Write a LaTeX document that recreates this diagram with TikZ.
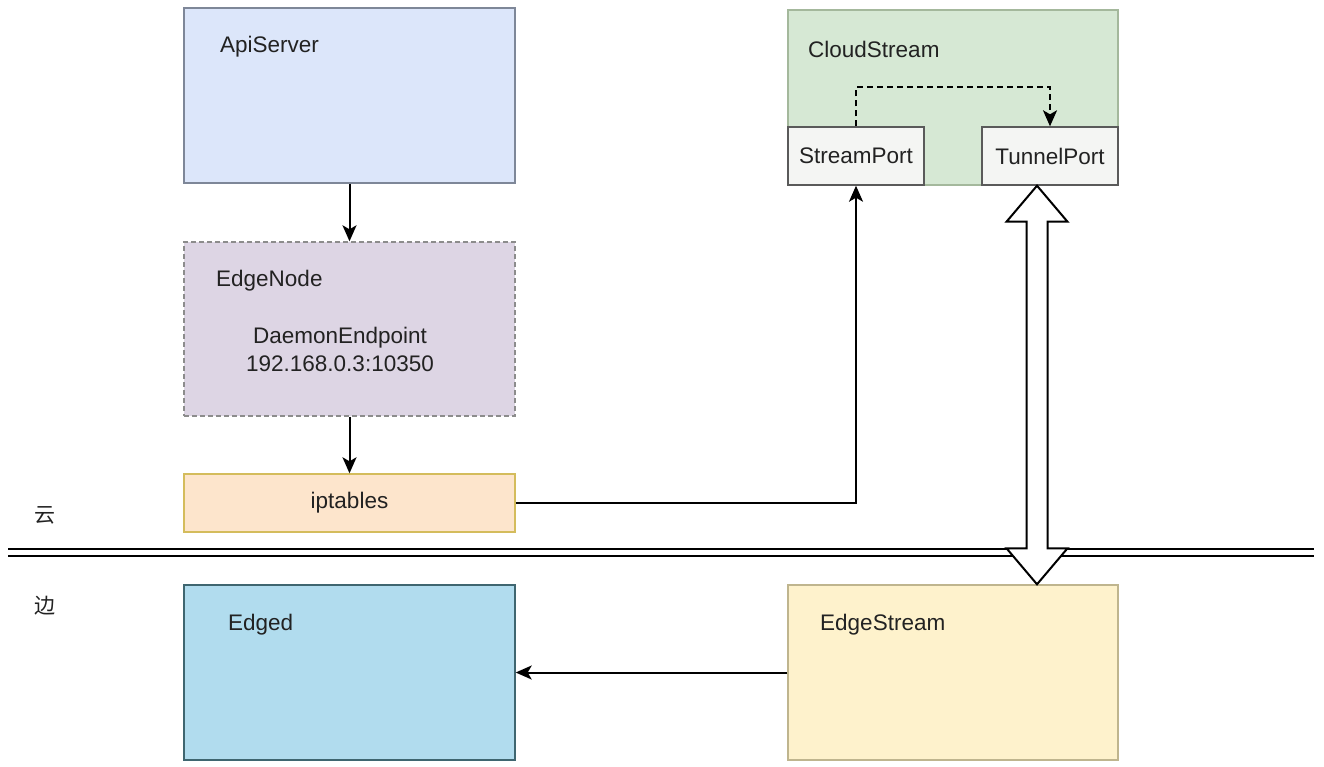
\documentclass[tikz,border=0pt]{standalone}
\usepackage{fontspec}
\setmainfont{Liberation Sans}
\newfontfamily\cjk{Noto Sans CJK SC}
\usetikzlibrary{arrows.meta,calc}

\definecolor{apiFill}{HTML}{DCE6FA}
\definecolor{apiLine}{HTML}{7E8798}
\definecolor{nodeFill}{HTML}{DDD5E4}
\definecolor{nodeLine}{HTML}{8C8C8C}
\definecolor{ipFill}{HTML}{FDE5CC}
\definecolor{ipLine}{HTML}{D4BC5C}
\definecolor{csFill}{HTML}{D6E8D4}
\definecolor{csLine}{HTML}{A4B89C}
\definecolor{portFill}{HTML}{F4F5F3}
\definecolor{portLine}{HTML}{5A5A5A}
\definecolor{edFill}{HTML}{B1DCEE}
\definecolor{edLine}{HTML}{3F6670}
\definecolor{esFill}{HTML}{FEF2CC}
\definecolor{esLine}{HTML}{BFB58E}
\definecolor{txt}{HTML}{222222}

\tikzset{
  box/.style={draw, line width=1.4pt, inner sep=0pt, text=txt},
  lbl/.style={anchor=west, inner sep=0pt, text=txt, font=\fontsize{22.5}{26}\selectfont},
  ctr/.style={inner sep=0pt, text=txt, font=\fontsize{22.5}{26}\selectfont},
  flow/.style={draw=black, line width=2pt, -{Stealth[length=16pt,width=14pt,inset=4pt]}},
  sep/.style={draw=black, line width=2.2pt},
}

\begin{document}
\begin{tikzpicture}[x=1pt,y=-1pt]
\useasboundingbox (0,0) rectangle (1324,766);

% cloud side
\node[box, fill=apiFill, draw=apiLine, minimum width=331pt, minimum height=175pt] (api) at (349.5,95.5) {};
\node[lbl] (apilbl) at (220,47) {ApiServer};

\node[box, fill=nodeFill, draw=nodeLine, dashed, dash pattern=on 5pt off 3pt, minimum width=331pt, minimum height=174pt] (edgenode) at (349.5,329) {};
\node[lbl] (enlbl) at (216,281) {EdgeNode};
\node[ctr, align=center, font=\fontsize{22.5}{28}\selectfont] (daemon) at (340,349) {DaemonEndpoint\\192.168.0.3:10350};

\node[box, fill=ipFill, draw=ipLine, minimum width=331pt, minimum height=58pt] (ipt) at (349.5,503) {};
\node[ctr] (iptlbl) at (ipt) {iptables};

\node[box, fill=csFill, draw=csLine, minimum width=330pt, minimum height=175pt] (cs) at (953,97.5) {};
\node[lbl] (cslbl) at (808,49) {CloudStream};
\node[box, fill=portFill, draw=portLine, minimum width=136pt, minimum height=58pt] (sport) at (856,156) {};
\node[ctr] (sportlbl) at (sport) {StreamPort};
\node[box, fill=portFill, draw=portLine, minimum width=136pt, minimum height=58pt] (tport) at (1050,156) {};
\node[ctr] (tportlbl) at (tport) {TunnelPort};

% edge side
\node[box, fill=edFill, draw=edLine, minimum width=331pt, minimum height=175pt] (edged) at (349.5,672.5) {};
\node[lbl] (edlbl) at (228,625) {Edged};
\node[box, fill=esFill, draw=esLine, minimum width=330pt, minimum height=175pt] (es) at (953,672.5) {};
\node[lbl] (eslbl) at (820,625) {EdgeStream};

% zone labels and divider
\node[ctr, font=\cjk\fontsize{21}{24}\selectfont] (cloudz) at (45,515) {云};
\node[ctr, font=\cjk\fontsize{21}{24}\selectfont] (edgez) at (45,606) {边};
\coordinate (dl) at (8,549);
\coordinate (dr) at (1314,549);
\draw[sep] (dl) -- (dr);
\draw[sep] ($(dl)+(0,7)$) -- ($(dr)+(0,7)$);

% connectors
\draw[flow] (api.south) -- (edgenode.north);
\draw[flow] (edgenode.south) -- (ipt.north);
\draw[flow] (ipt.east) -| (sport.south);
\draw[flow, dashed, dash pattern=on 6pt off 4pt] (sport.north) -- ++(0,-39) -| (tport.north);
\draw[flow] (es.west) -- (edged.east);

% tunnel between TunnelPort and EdgeStream
\coordinate (tt) at ($(tport.south)+(-13,0)$);
\coordinate (tb) at ($(es.north -| tt)$);
\draw[line width=2pt, fill=white, line join=miter]
  (tt) -- ++(30.5,36) -- ++(-20,0) -- ($(tb)+(10.5,-36)$) -- ++(20,0)
  -- (tb) -- ++(-30.5,-36) -- ++(20,0) -- ($(tt)+(-10.5,36)$) -- ++(-20,0) -- cycle;
\end{tikzpicture}
\end{document}
